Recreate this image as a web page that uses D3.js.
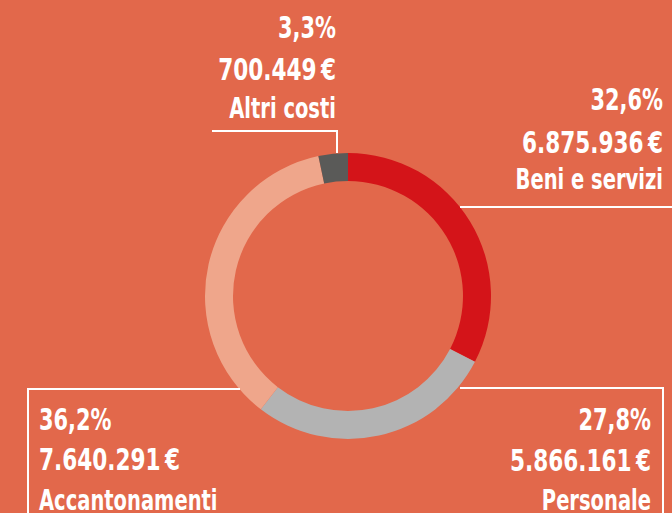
<!DOCTYPE html>
<html><head><meta charset="utf-8">
<script src="https://cdn.jsdelivr.net/npm/d3@7"></script>
<style>
html,body{margin:0;padding:0;background:#E2684B;}
svg{display:block;}
text{font-family:"DejaVu Sans Condensed","Liberation Sans Narrow","Liberation Sans",sans-serif;font-weight:bold;fill:#fff;}
</style></head>
<body>
<svg id="c" width="672" height="513"></svg>
<script>
const categories = ["Beni e servizi","Personale","Accantonamenti","Altri costi"];
const values = [6875936, 5866161, 7640291, 700449];
const percentLabels = ["32,6%","27,8%","36,2%","3,3%"];
const colors = ["#D41419","#B3B3B3","#EFA68B","#5A5A58"];

const W=672,H=513;
const svg=d3.select("#c");
svg.append("rect").attr("width",W).attr("height",H).attr("fill","#E2684B");

const cx=348, cy=296, rOut=143, rIn=115;
const pie=d3.pie().sort(null).value(d=>d)(values);
const arc=d3.arc().innerRadius(rIn).outerRadius(rOut);
svg.append("g").attr("transform",`translate(${cx},${cy})`)
  .selectAll("path").data(pie).join("path")
  .attr("d",arc).attr("fill",(d,i)=>colors[i]);

const loc=d3.formatLocale({decimal:",",thousands:".",grouping:[3],currency:[""," €"]});
const fmt=v=>loc.format(",")(v)+"\u2009€";

// leader lines
const lines=[
 [[460,207],[672,207]],
 [[460,388],[663,388],[663,513]],
 [[240,389],[28,389],[28,513]],
 [[212,131],[337,131],[337,153]]
];
svg.selectAll("path.l").data(lines).join("path").attr("class","l")
  .attr("d",d=>d3.line()(d)).attr("fill","none").attr("stroke","#fff").attr("stroke-width",2);

const labelPos=[
 {x:663,anchor:"end",ys:[110,153,189]},
 {x:651,anchor:"end",ys:[430,471,510]},
 {x:39,anchor:"start",ys:[430,470,510]},
 {x:336,anchor:"end",ys:[38,80,118]}
];
const sx=0.775;
categories.forEach((c,i)=>{
  const p=labelPos[i];
  const t=[percentLabels[i],fmt(values[i]),c];
  const sizes=[30,31,28];
  t.forEach((s,j)=>{
    svg.append("text").attr("transform",`translate(${p.x},${p.ys[j]}) scale(${sx},1)`)
      .attr("text-anchor",p.anchor)
      .attr("font-size",sizes[j]).text(s);
  });
});
</script>
</body></html>
